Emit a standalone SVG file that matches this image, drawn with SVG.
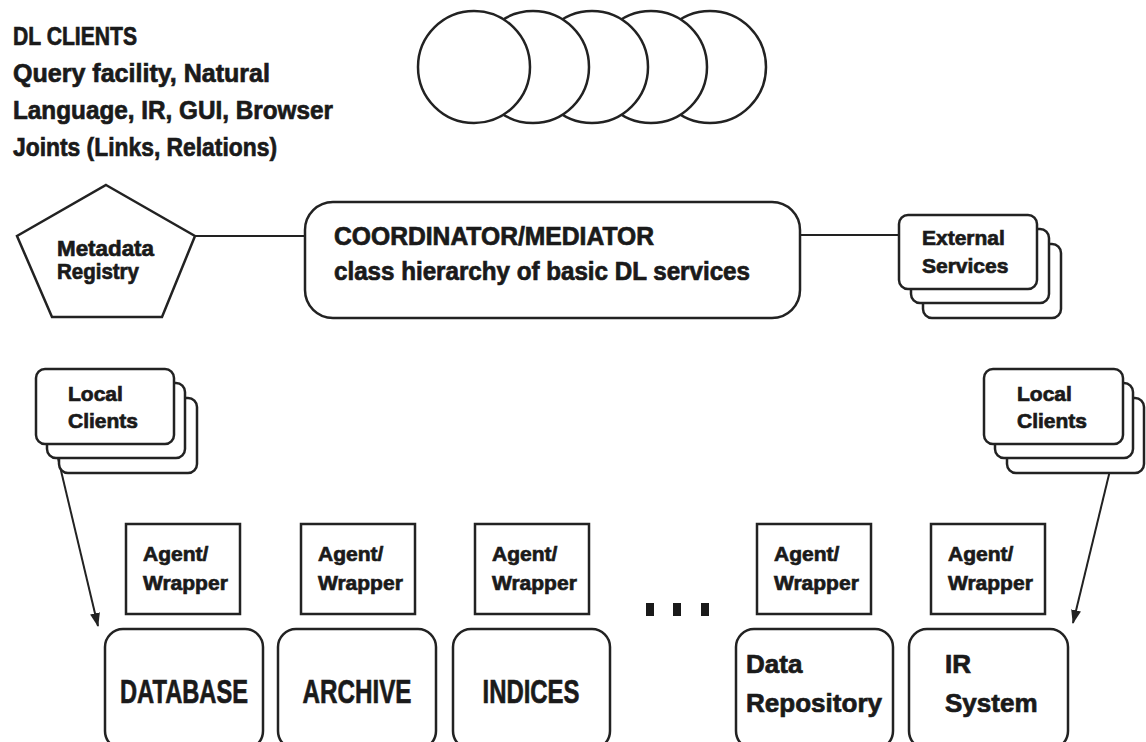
<svg xmlns="http://www.w3.org/2000/svg" width="1146" height="742" viewBox="0 0 1146 742">
<defs>
<style>
.t{font-family:"Liberation Sans",Arial,sans-serif;font-weight:bold;fill:#1a1a1a;stroke:#1a1a1a;stroke-width:0.7}
.s{fill:#fff;stroke:#222;stroke-width:2.5}
.c{fill:none;stroke:#222;stroke-width:2}
</style>
<marker id="ah" markerWidth="14" markerHeight="10" refX="13" refY="5" orient="auto" markerUnits="userSpaceOnUse">
<path d="M0,0 L14,5 L0,10 Z" fill="#222"/>
</marker>
</defs>
<rect width="1146" height="742" fill="#fff"/>

<g id="dl-clients">
<circle class="s" cx="710" cy="67" r="56"/>
<circle class="s" cx="651" cy="67" r="56"/>
<circle class="s" cx="592" cy="67" r="56"/>
<circle class="s" cx="533" cy="67" r="56"/>
<circle class="s" cx="474" cy="67" r="56"/>
<text class="t" x="13" y="45" font-size="26" textLength="124" lengthAdjust="spacingAndGlyphs">DL CLIENTS</text>
<text class="t" x="13" y="82" font-size="26" textLength="257" lengthAdjust="spacingAndGlyphs">Query facility, Natural</text>
<text class="t" x="13" y="119" font-size="26" textLength="320" lengthAdjust="spacingAndGlyphs">Language, IR, GUI, Browser</text>
<text class="t" x="13" y="156" font-size="26" textLength="264" lengthAdjust="spacingAndGlyphs">Joints (Links, Relations)</text>
</g>

<g id="connectors">
<line class="c" x1="195" y1="236" x2="305" y2="236"/>
<line class="c" x1="800" y1="235" x2="899" y2="235"/>
<line class="c" x1="58" y1="458" x2="98" y2="626" marker-end="url(#ah)"/>
<line class="c" x1="1113" y1="458" x2="1073" y2="623" marker-end="url(#ah)"/>
</g>

<g id="metadata-registry">
<polygon class="s" stroke-width="3" points="106,185 195,236 162,317 52,317 17,236"/>
<text class="t" x="57" y="256" font-size="22" textLength="97" lengthAdjust="spacingAndGlyphs">Metadata</text>
<text class="t" x="57" y="279" font-size="22" textLength="82" lengthAdjust="spacingAndGlyphs">Registry</text>
</g>

<g id="coordinator">
<rect class="s" x="305" y="202" width="495" height="116" rx="28"/>
<text class="t" x="334" y="245" font-size="25" textLength="320" lengthAdjust="spacingAndGlyphs">COORDINATOR/MEDIATOR</text>
<text class="t" x="334" y="280" font-size="25" textLength="416" lengthAdjust="spacingAndGlyphs">class hierarchy of basic DL services</text>
</g>

<g id="external-services">
<rect class="s" x="923" y="244" width="138" height="74" rx="9"/>
<rect class="s" x="911" y="229" width="138" height="74" rx="9"/>
<rect class="s" x="899" y="215" width="138" height="74" rx="9"/>
<text class="t" x="922" y="245" font-size="21">External</text>
<text class="t" x="922" y="273" font-size="21">Services</text>
</g>

<g id="local-clients-left">
<rect class="s" x="59" y="398" width="138" height="75" rx="9"/>
<rect class="s" x="47" y="383" width="138" height="75" rx="9"/>
<rect class="s" x="36" y="369" width="138" height="75" rx="9"/>
<text class="t" x="68" y="401" font-size="21">Local</text>
<text class="t" x="68" y="428" font-size="21">Clients</text>
</g>

<g id="local-clients-right">
<rect class="s" x="1007" y="398" width="137" height="75" rx="9"/>
<rect class="s" x="995" y="383" width="138" height="75" rx="9"/>
<rect class="s" x="984" y="369" width="139" height="75" rx="9"/>
<text class="t" x="1017" y="401" font-size="21">Local</text>
<text class="t" x="1017" y="428" font-size="21">Clients</text>
</g>

<g id="agent-1">
<rect class="s" x="126" y="524" width="114" height="90"/>
<text class="t" x="143" y="561" font-size="21">Agent/</text>
<text class="t" x="143" y="590" font-size="21">Wrapper</text>
</g>
<g id="agent-2">
<rect class="s" x="301" y="524" width="114" height="90"/>
<text class="t" x="318" y="561" font-size="21">Agent/</text>
<text class="t" x="318" y="590" font-size="21">Wrapper</text>
</g>
<g id="agent-3">
<rect class="s" x="475" y="524" width="114" height="90"/>
<text class="t" x="492" y="561" font-size="21">Agent/</text>
<text class="t" x="492" y="590" font-size="21">Wrapper</text>
</g>
<g id="agent-4">
<rect class="s" x="757" y="524" width="114" height="90"/>
<text class="t" x="774" y="561" font-size="21">Agent/</text>
<text class="t" x="774" y="590" font-size="21">Wrapper</text>
</g>
<g id="agent-5">
<rect class="s" x="931" y="524" width="114" height="90"/>
<text class="t" x="948" y="561" font-size="21">Agent/</text>
<text class="t" x="948" y="590" font-size="21">Wrapper</text>
</g>

<g id="ellipsis">
<rect x="646" y="603" width="8" height="13" fill="#1a1a1a"/>
<rect x="673" y="603" width="8" height="13" fill="#1a1a1a"/>
<rect x="701" y="603" width="8" height="13" fill="#1a1a1a"/>
</g>

<g id="database">
<rect class="s" x="105" y="629" width="158" height="120" rx="18"/>
<text class="t" x="184" y="703" font-size="34" text-anchor="middle" textLength="128" lengthAdjust="spacingAndGlyphs">DATABASE</text>
</g>
<g id="archive">
<rect class="s" x="278" y="629" width="158" height="120" rx="18"/>
<text class="t" x="357" y="703" font-size="34" text-anchor="middle" textLength="109" lengthAdjust="spacingAndGlyphs">ARCHIVE</text>
</g>
<g id="indices">
<rect class="s" x="453" y="629" width="157" height="120" rx="18"/>
<text class="t" x="531" y="703" font-size="34" text-anchor="middle" textLength="97" lengthAdjust="spacingAndGlyphs">INDICES</text>
</g>
<g id="data-repository">
<rect class="s" x="736" y="629" width="157" height="120" rx="18"/>
<text class="t" x="746" y="673" font-size="26">Data</text>
<text class="t" x="746" y="712" font-size="26" textLength="136" lengthAdjust="spacingAndGlyphs">Repository</text>
</g>
<g id="ir-system">
<rect class="s" x="909" y="629" width="159" height="120" rx="18"/>
<text class="t" x="945" y="673" font-size="26">IR</text>
<text class="t" x="945" y="712" font-size="26">System</text>
</g>
</svg>
